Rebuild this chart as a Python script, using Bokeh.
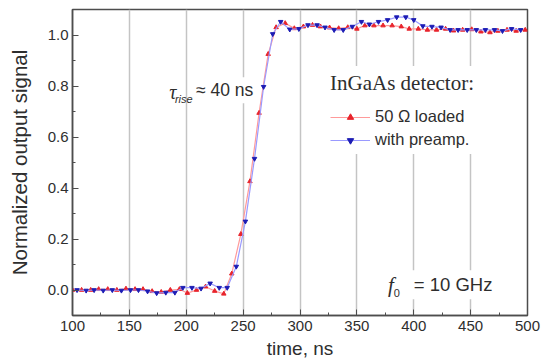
from bokeh.plotting import figure
from bokeh.models import FixedTicker, NumeralTickFormatter, Label, Legend, LegendItem, Range1d
from bokeh.embed import file_html
from bokeh.resources import INLINE

# ---- data ----
t_loaded = [100, 108, 116, 123, 131, 139, 147, 155, 162, 170, 178, 186, 194, 201, 209, 217,
            225, 233, 240, 248, 256, 264, 272, 279, 287, 295, 303, 311, 318, 326, 334, 342,
            350, 357, 365, 373, 381, 389, 396, 404, 412, 420, 428, 435, 443, 451, 459, 467,
            474, 482, 490, 498]
s_loaded = [0.000, 0.000, 0.000, 0.003, 0.003, 0.000, 0.005, 0.003, 0.003, -0.005, -0.008, 0.000,
            0.003, -0.012, 0.000, 0.013, -0.004, -0.015, 0.064, 0.219, 0.426, 0.694, 0.925, 1.030,
            1.046, 1.026, 1.033, 1.039, 1.033, 1.029, 1.026, 1.030, 1.024, 1.037, 1.037, 1.037,
            1.037, 1.033, 1.024, 1.024, 1.020, 1.020, 1.024, 1.017, 1.020, 1.022, 1.013, 1.010,
            1.016, 1.020, 1.016, 1.020]

t_preamp = [104, 112, 119, 127, 135, 143, 151, 158, 166, 174, 182, 190, 197, 205, 213, 221,
            229, 236, 244, 252, 260, 268, 276, 283, 291, 299, 307, 315, 322, 330, 338, 346,
            354, 361, 369, 377, 385, 393, 400, 408, 416, 424, 432, 439, 447, 455, 463, 471,
            478, 486, 494]
s_preamp = [0.000, -0.002, 0.000, -0.002, 0.000, -0.002, 0.000, 0.000, -0.005, -0.012, -0.010,
            -0.010, 0.009, 0.009, 0.006, 0.026, 0.009, 0.009, 0.092, 0.269, 0.515, 0.797, 1.004,
            1.052, 1.022, 1.024, 1.039, 1.039, 1.030, 1.020, 1.020, 1.033, 1.052, 1.042, 1.052,
            1.059, 1.070, 1.070, 1.059, 1.035, 1.033, 1.030, 1.020, 1.020, 1.020, 1.020, 1.020,
            1.020, 1.016, 1.024, 1.020]

x_major = [100, 150, 200, 250, 300, 350, 400, 450, 500]
x_minor = [125, 175, 225, 275, 325, 375, 425, 475]
x_grid = [150, 200, 250, 300, 350, 400, 450]
y_major = [0.0, 0.2, 0.4, 0.6, 0.8, 1.0]
y_minor = [0.1, 0.3, 0.5, 0.7, 0.9]

SANS = "Liberation Sans"
SERIF = "Liberation Serif"
AX = "#4d4d4d"
TXT = "#2e2e2e"

p = figure(width=544, height=363, output_backend="svg", toolbar_location=None,
           x_range=Range1d(100, 500), y_range=Range1d(-0.1, 1.1))
p.min_border_left = 72
p.min_border_right = 17
p.min_border_top = 9
p.min_border_bottom = 48
p.background_fill_color = "white"
p.border_fill_color = "white"
p.outline_line_color = AX
p.outline_line_width = 1.5

# axes
for ax in (p.xaxis[0], p.yaxis[0]):
    ax.axis_line_color = AX
    ax.axis_line_width = 1.5
    ax.major_tick_in = 6
    ax.major_tick_out = 0
    ax.minor_tick_in = 3
    ax.minor_tick_out = 0
    ax.major_tick_line_color = AX
    ax.minor_tick_line_color = AX
    ax.major_label_text_font = SANS
    ax.major_label_text_font_size = "15px"
    ax.major_label_text_color = TXT
    ax.axis_label_text_font = SANS
    ax.axis_label_text_font_style = "normal"
    ax.axis_label_text_color = TXT

p.xaxis.ticker = FixedTicker(ticks=x_major, minor_ticks=x_minor)
p.yaxis.ticker = FixedTicker(ticks=y_major, minor_ticks=y_minor)
p.yaxis.formatter = NumeralTickFormatter(format="0.0")
p.xaxis.axis_label = "time, ns"
p.yaxis.axis_label = "Normalized output signal"
p.xaxis.axis_label_text_font_size = "19px"
p.yaxis.axis_label_text_font_size = "20.5px"
p.xaxis.major_label_standoff = 5
p.xaxis.axis_label_standoff = 4
p.yaxis.major_label_standoff = 4
p.yaxis.axis_label_standoff = 14

p.xgrid.ticker = FixedTicker(ticks=x_grid)
p.xgrid.grid_line_color = "#c4c4c4"
p.xgrid.grid_line_width = 1.5
p.ygrid.visible = False

# data
red_line = p.line(t_loaded, s_loaded, line_color="#ff9a9a", line_width=1.2)
red_pts = p.scatter(t_loaded, s_loaded, marker="triangle", size=4.5,
                    fill_color="#e8242c", line_color="#e8242c")
blue_line = p.line(t_preamp, s_preamp, line_color="#9a9aff", line_width=1.2)
blue_pts = p.scatter(t_preamp, s_preamp, marker="inverted_triangle", size=4.5,
                     fill_color="#1c1cb4", line_color="#1c1cb4")

legend = Legend(items=[LegendItem(label="50 \u03a9 loaded", renderers=[red_line, red_pts]),
                       LegendItem(label="with preamp.", renderers=[blue_line, blue_pts])],
                location=(253, 161))
legend.title = "InGaAs detector:"
legend.title_text_font = SERIF
legend.title_text_font_size = "21px"
legend.title_text_font_style = "normal"
legend.title_text_color = TXT
legend.title_standoff = 11
legend.label_text_font = SANS
legend.label_text_font_size = "16.5px"
legend.label_text_color = TXT
legend.glyph_width = 40
legend.glyph_height = 16
legend.label_height = 16
legend.label_standoff = 5
legend.spacing = 4
legend.padding = 5
legend.margin = 0
legend.border_line_alpha = 0
legend.background_fill_color = "white"
legend.background_fill_alpha = 1.0
p.add_layout(legend)

# annotations
p.add_layout(Label(x=206.0, y=0.783, text="\u2248 40 ns", text_font=SANS, text_font_size="17.5px",
                   text_color=TXT, text_baseline="middle", text_align="left",
                   background_fill_color="white", padding=3))
p.add_layout(Label(x=182.5, y=0.775, text="\u03c4", text_font=SERIF, text_font_style="italic",
                   text_font_size="20px", text_color=TXT, text_baseline="middle",
                   background_fill_color="white", padding=3))
p.add_layout(Label(x=190.0, y=0.748, text="rise", text_font=SANS, text_font_style="italic",
                   text_font_size="11px", text_color=TXT, text_baseline="middle"))

p.add_layout(Label(x=396.5, y=0.021, text="= 10 GHz", text_font=SANS, text_font_size="18.5px",
                   text_color=TXT, text_baseline="middle", text_align="left",
                   background_fill_color="white", padding=4))
p.add_layout(Label(x=375.5, y=0.02, text="f", text_font=SERIF, text_font_style="italic",
                   text_font_size="21px", text_color=TXT, text_baseline="middle",
                   background_fill_color="white", padding=2))
p.add_layout(Label(x=382.5, y=-0.012, text="0", text_font=SANS,
                   text_font_size="11px", text_color=TXT, text_baseline="middle"))

open("out.html", "w").write(file_html(p, INLINE))
